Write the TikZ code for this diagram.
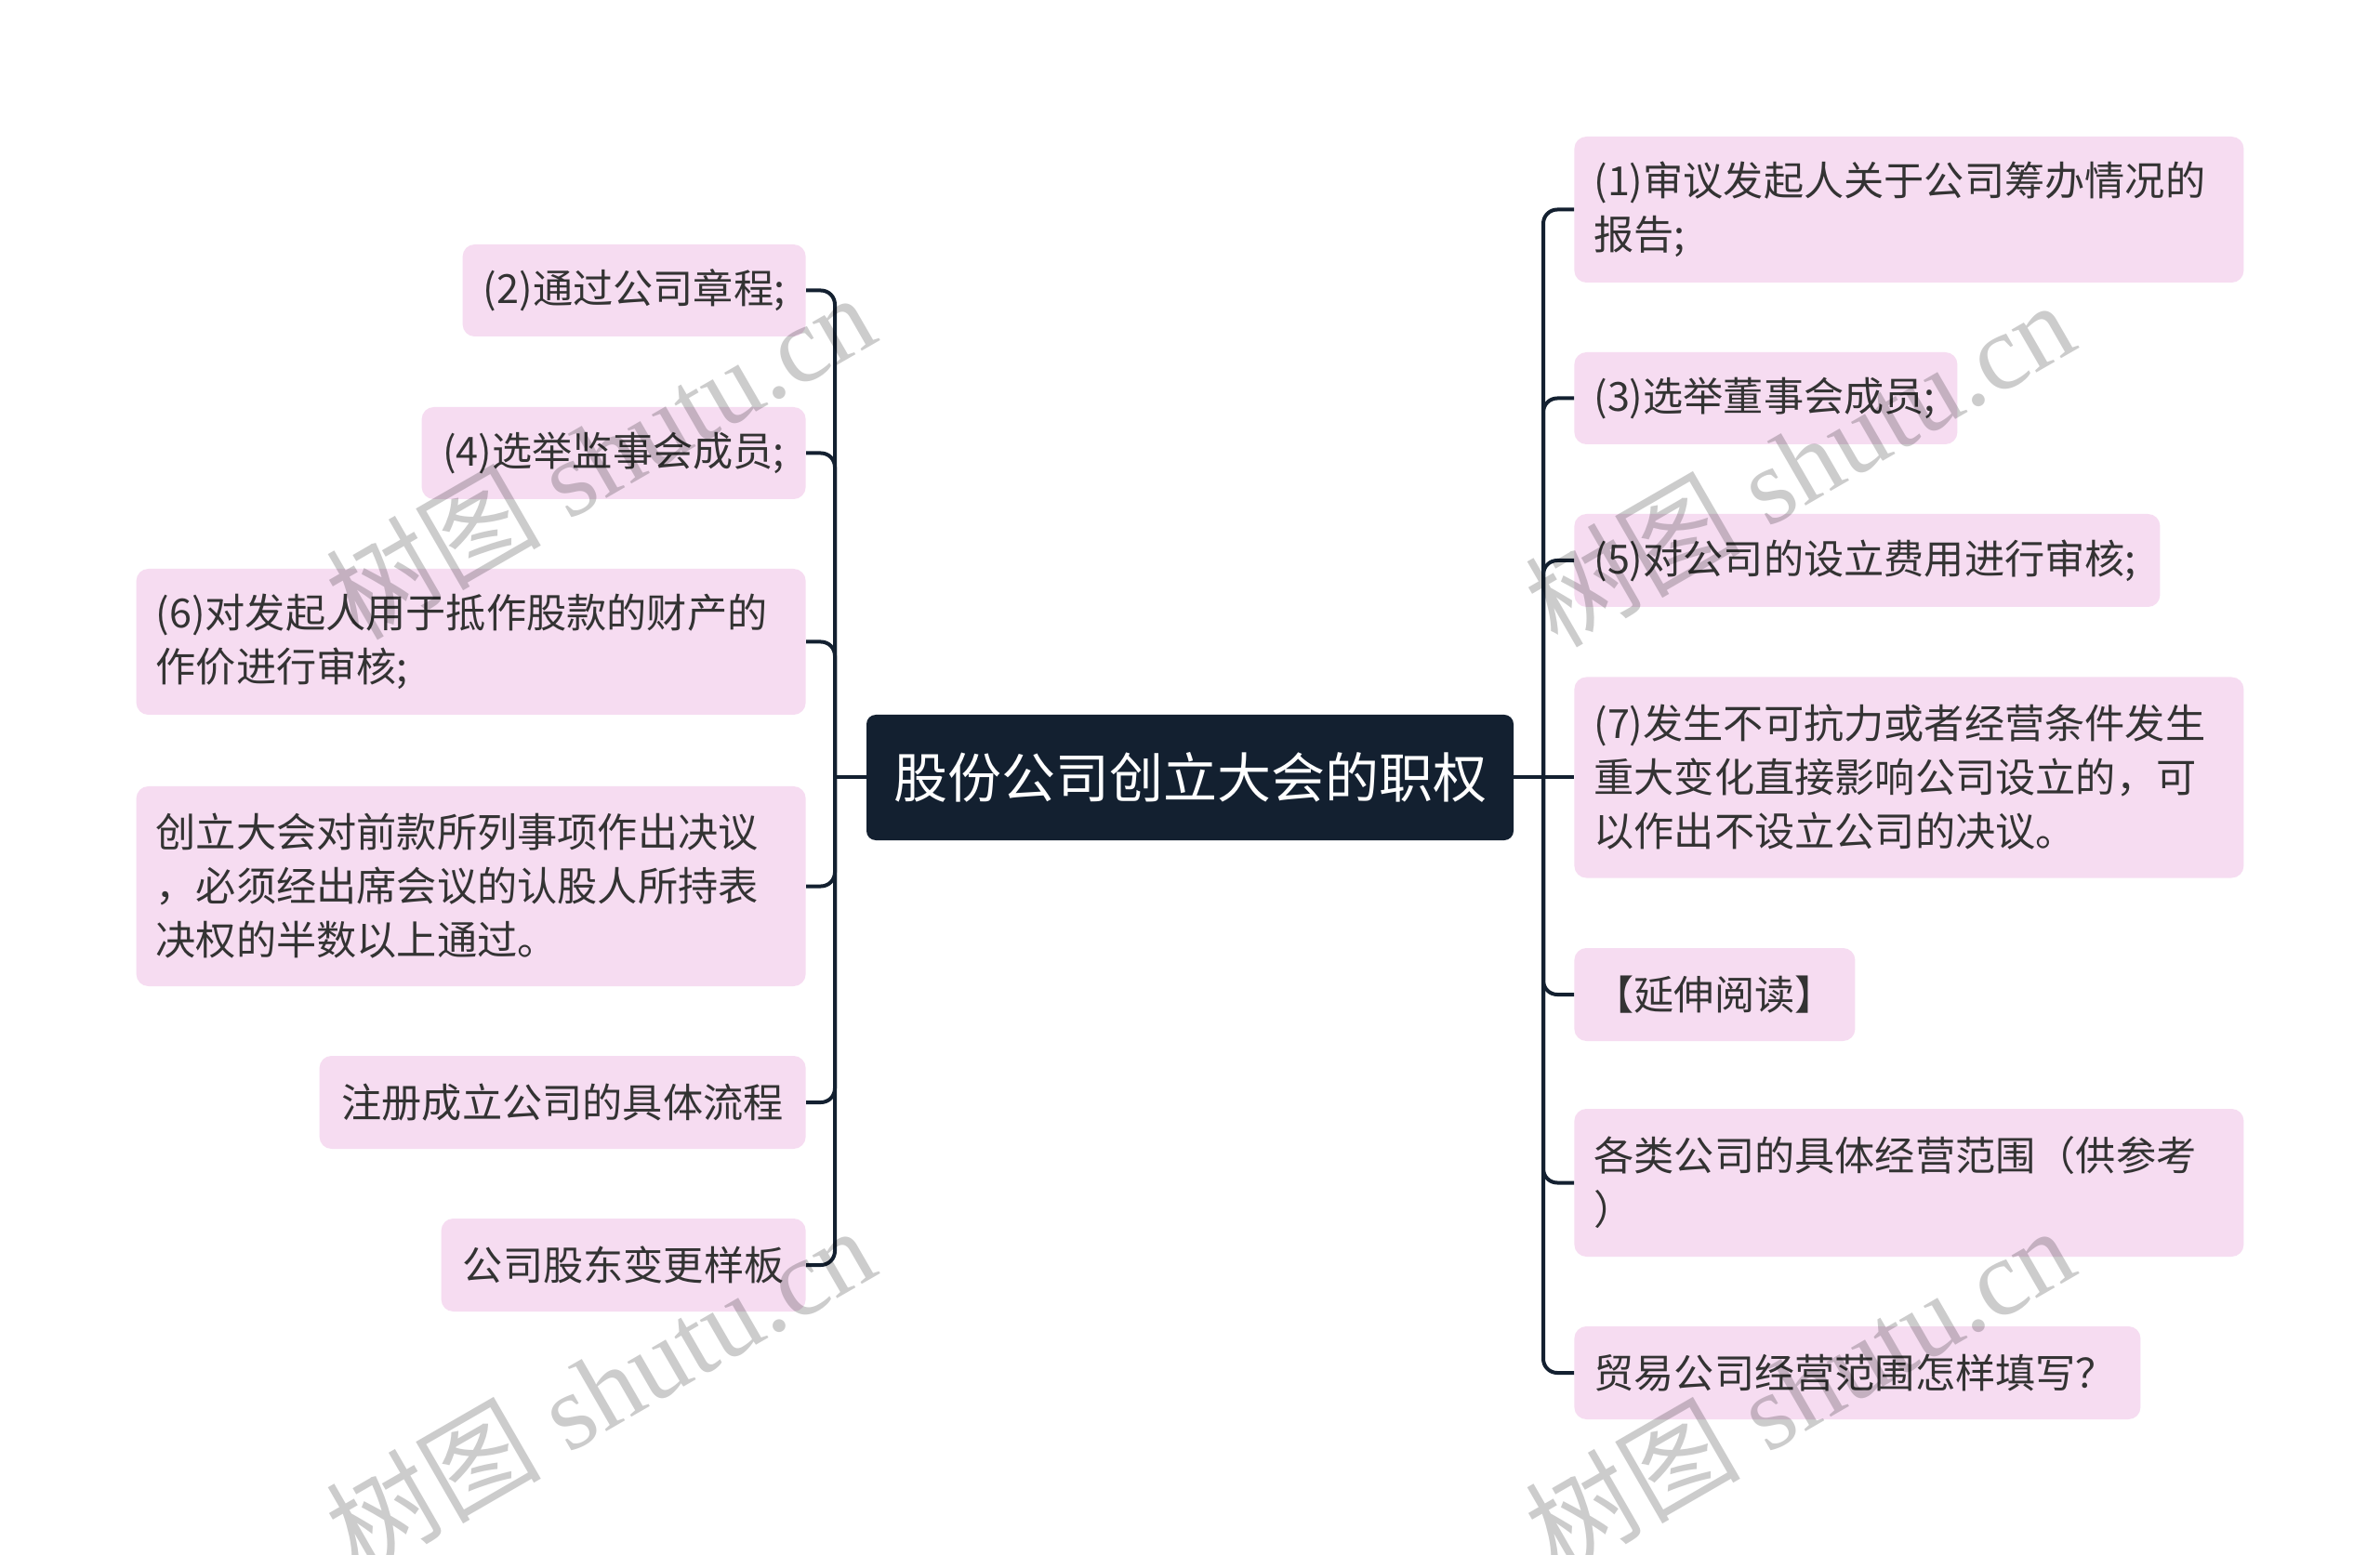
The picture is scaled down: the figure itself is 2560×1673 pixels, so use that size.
\documentclass[tikz,border=0pt]{standalone}
\usepackage{fontspec}
\setmainfont{Noto Sans CJK SC}
\newfontfamily\wmlatin{Liberation Serif}
\newfontfamily\wmcjk{Noto Sans CJK SC}
\definecolor{pinkbox}{HTML}{F6DCF1}
\definecolor{navy}{HTML}{132030}
\definecolor{txt}{HTML}{333333}
\tikzset{
  leaf/.style={rectangle, rounded corners=6.5pt, fill=pinkbox, text=txt,
    inner xsep=10.5pt, inner ysep=0pt, align=left,
    font=\fontsize{21.6pt}{29pt}\selectfont},
  leafc/.style={leaf, align=center},
  rootbox/.style={rectangle, rounded corners=5pt, fill=navy, text=white,
    inner sep=0pt, minimum width=348pt, minimum height=67.5pt,
    font=\fontsize{29pt}{36pt}\selectfont},
  conn/.style={draw=navy, line width=2pt, rounded corners=7.5pt},
  wm/.style={text=black, opacity=0.2, rotate=30, inner sep=0pt}
}
\begin{document}
\begin{tikzpicture}[x=0.5pt, y=-0.5pt]
\useasboundingbox[fill=white] (0,0) rectangle (2560,1673);

% root
\node[rootbox] (root) at (1280,836.5) {股份公司创立大会的职权};

% right children
\node[leaf, anchor=west, text width=339pt, minimum height=78.5pt] (r1) at (1693,225.5)
  {(1)审议发起人关于公司筹办情况的\\报告;};
\node[leaf, anchor=west, text width=185pt, minimum height=49.5pt] (r3) at (1693,428.5)
  {(3)选举董事会成员;};
\node[leaf, anchor=west, text width=294pt, minimum height=50pt] (r5) at (1693,603)
  {(5)对公司的设立费用进行审核;};
\node[leaf, anchor=west, text width=339pt, minimum height=108pt] (r7) at (1693,836.5)
  {(7)发生不可抗力或者经营条件发生\\重大变化直接影响公司设立的，可\\以作出不设立公司的决议。};
\node[leaf, anchor=west, text width=130pt, minimum height=50pt] (r8) at (1693,1070)
  {【延伸阅读】};
\node[leaf, anchor=west, text width=339pt, minimum height=79.5pt] (r9) at (1693,1272.5)
  {各类公司的具体经营范围（供参考\\）};
\node[leaf, anchor=west, text width=283.5pt, minimum height=50pt] (r10) at (1693,1477)
  {贸易公司经营范围怎样填写？};

% left children
\node[leafc, anchor=east, text width=163.5pt, minimum height=49.5pt] (l2) at (867,312.5)
  {(2)通过公司章程;};
\node[leafc, anchor=east, text width=185.5pt, minimum height=49.5pt] (l4) at (867,487.5)
  {(4)选举监事会成员;};
\node[leaf, anchor=east, text width=339pt, minimum height=78.5pt] (l6) at (867,690.5)
  {(6)对发起人用于抵作股款的财产的\\作价进行审核;};
\node[leaf, anchor=east, text width=339pt, minimum height=107.5pt] (l8) at (867,953.5)
  {创立大会对前款所列事项作出决议\\，必须经出席会议的认股人所持表\\决权的半数以上通过。};
\node[leafc, anchor=east, text width=240.5pt, minimum height=50pt] (l10) at (867,1186)
  {注册成立公司的具体流程};
\node[leafc, anchor=east, text width=175pt, minimum height=50pt] (l12) at (867,1361)
  {公司股东变更样板};

% connectors
\coordinate (rt) at (1660,836.5);
\coordinate (lt) at (898,836.5);
\draw[conn] (root.east) -- (rt);
\draw[conn] (root.west) -- (lt);
\foreach \n in {r1,r3,r5,r8,r9,r10} \draw[conn] (rt) |- (\n.west);
\draw[conn] (rt) -- (r7.west);
\foreach \n in {l2,l4,l6,l8,l10,l12} \draw[conn] (lt) |- (\n.east);

% watermarks
\foreach \p/\q in {645/490, 645/1494, 1935/498, 1935/1494}
  \node[wm] (wm\p\q) at (\p,\q) {\fontsize{58pt}{60pt}\wmcjk 树图\wmlatin\ shutu.cn};
\end{tikzpicture}
\end{document}
